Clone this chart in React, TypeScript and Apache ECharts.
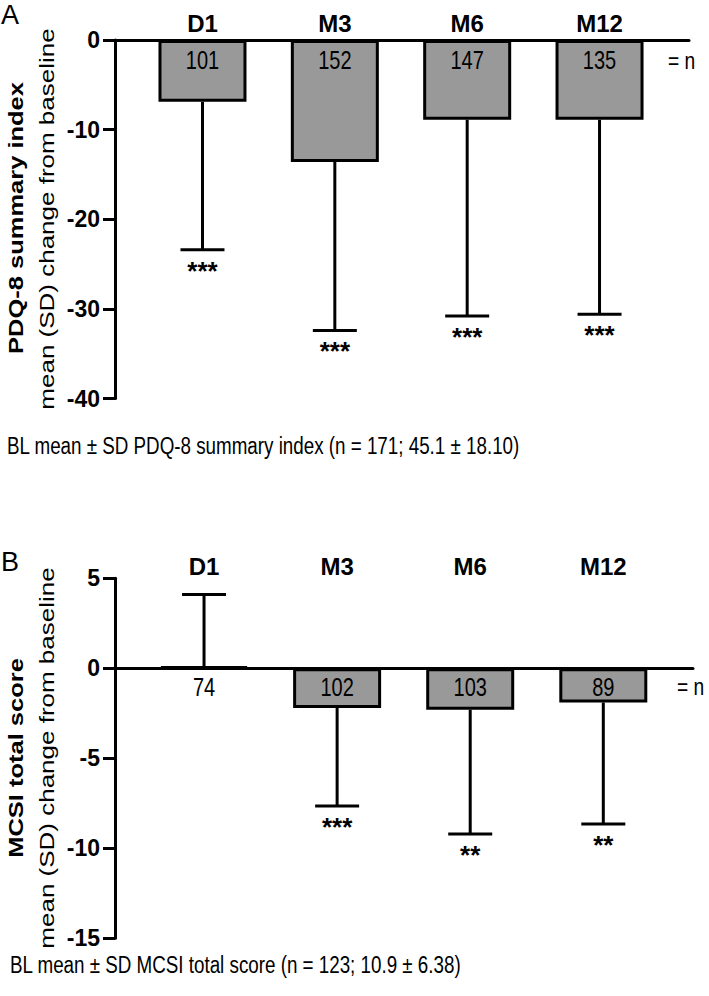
import React, { useEffect, useRef } from "react";
import * as echarts from "echarts";

const categories = ["D1", "M3", "M6", "M12"];
const catPos = [1, 2, 3, 4];

const pdqMean = [-6.9, -13.6, -8.9, -8.9];
const pdqSD = [16.5, 18.8, 21.9, 21.7];
const pdqN = [101, 152, 147, 135];
const pdqStars = ["***", "***", "***", "***"];

const mcsiMean = [0.1, -2.2, -2.3, -1.9];
const mcsiSD = [4.0, 5.45, 6.9, 6.75];
const mcsiN = [74, 102, 103, 89];
const mcsiStars = ["", "***", "**", "**"];

const pdqTicks = { min: -40, max: 0, interval: 10 };
const mcsiTicks = { min: -15, max: 5, interval: 5 };

const FONT = "'Liberation Sans', Arial, Helvetica, sans-serif";
const NARROW = 0.8;

function errEnd(m: number, sd: number) {
  return m >= 0 ? m + sd : m - sd;
}

const renderErr = (params: any, api: any) => {
  const x = api.value(0);
  const m = api.value(1);
  const sd = api.value(2);
  const end = errEnd(m, sd);
  const p0 = api.coord([x, m]);
  const p1 = api.coord([x, end]);
  return {
    type: "group",
    children: [
      {
        type: "line",
        shape: { x1: p0[0], y1: p0[1], x2: p1[0], y2: p1[1] },
        style: { stroke: "#000", lineWidth: 3 },
      },
      {
        type: "line",
        shape: { x1: p1[0] - 22, y1: p1[1], x2: p1[0] + 22, y2: p1[1] },
        style: { stroke: "#000", lineWidth: 3 },
      },
    ],
  };
};

function textRenderer(
  texts: (string | number)[],
  dy: number,
  size: number,
  scaleX: number,
  weight: string
) {
  return (params: any, api: any) => {
    const p = api.coord([api.value(0), api.value(1)]);
    return {
      type: "text",
      x: p[0],
      y: p[1] + dy,
      scaleX,
      style: {
        text: String(texts[params.dataIndex]),
        fontSize: size,
        fontWeight: weight,
        fontFamily: FONT,
        fill: "#000",
        align: "center",
        verticalAlign: "middle",
      },
    };
  };
}

function panelSeries(
  idx: number,
  means: number[],
  sds: number[],
  ns: number[],
  stars: string[],
  nDy: number
) {
  return [
    {
      type: "bar",
      xAxisIndex: idx * 2,
      yAxisIndex: idx,
      barWidth: 88,
      data: means.map((v, i) => [catPos[i], v]),
      itemStyle: { color: "#999999", borderColor: "#000", borderWidth: 3 },
      z: 2,
    },
    {
      type: "custom",
      xAxisIndex: idx * 2,
      yAxisIndex: idx,
      renderItem: renderErr,
      encode: { x: 0, y: 1 },
      data: means.map((v, i) => [catPos[i], v, sds[i]]),
      z: 3,
    },
    {
      type: "custom",
      xAxisIndex: idx * 2,
      yAxisIndex: idx,
      renderItem: textRenderer(stars, 21, 26, 1, "bold"),
      encode: { x: 0, y: 1 },
      data: means.map((v, i) => [catPos[i], errEnd(v, sds[i])]),
      z: 4,
    },
    {
      type: "custom",
      xAxisIndex: idx * 2,
      yAxisIndex: idx,
      renderItem: textRenderer(ns, nDy, 25, NARROW, "normal"),
      encode: { x: 0, y: 1 },
      data: means.map((v, i) => [catPos[i], 0]),
      z: 5,
    },
  ];
}

function xAxes(gridIndex: number, min: number, max: number, labelMargin: number) {
  return [
    {
      gridIndex,
      type: "value",
      min,
      max,
      axisLine: { show: true, onZero: true, lineStyle: { color: "#000", width: 3 } },
      axisTick: { show: false },
      axisLabel: { show: false },
      splitLine: { show: false },
    },
    {
      gridIndex,
      type: "value",
      position: "top",
      min,
      max,
      axisLine: { show: false, onZero: false },
      axisTick: { show: false },
      axisLabel: {
        show: true,
        customValues: catPos,
        formatter: (v: number) => categories[Math.round(v) - 1] ?? "",
        fontSize: 24,
        fontWeight: "bold",
        fontFamily: FONT,
        color: "#000",
        margin: labelMargin,
      },
      splitLine: { show: false },
    },
  ];
}

function yAxis(gridIndex: number, t: { min: number; max: number; interval: number }) {
  return {
    gridIndex,
    type: "value",
    min: t.min,
    max: t.max,
    interval: t.interval,
    axisLine: { show: true, onZero: false, lineStyle: { color: "#000", width: 3 } },
    axisTick: { show: true, length: 12, lineStyle: { color: "#000", width: 3 } },
    axisLabel: {
      fontSize: 23,
      fontWeight: "bold",
      fontFamily: FONT,
      color: "#000",
      margin: 15,
    },
    splitLine: { show: false },
  };
}

function rotText(x: number, y: number, text: string, bold: boolean, size: number) {
  return {
    type: "text",
    x,
    y,
    rotation: Math.PI / 2,
    scaleY: NARROW,
    style: {
      text,
      fontSize: size,
      fontWeight: bold ? "bold" : "normal",
      fontFamily: FONT,
      fill: "#000",
      align: "center",
      verticalAlign: "middle",
    },
  };
}

function plainText(x: number, y: number, text: string, size: number, sx: number) {
  return {
    type: "text",
    x,
    y,
    scaleX: sx,
    style: {
      text,
      fontSize: size,
      fontFamily: FONT,
      fill: "#000",
      align: "left",
      verticalAlign: "middle",
    },
  };
}

export default function App() {
  const ref = useRef<HTMLDivElement>(null);
  useEffect(() => {
    if (!ref.current) return;
    const chart = echarts.init(ref.current, undefined, { renderer: "svg" });
    chart.setOption({
      animation: false,
      backgroundColor: "#fff",
      grid: [
        { left: 115, top: 40, width: 574, height: 358.5 },
        { left: 115, top: 578.3, width: 578, height: 360 },
      ],
      xAxis: [
        ...xAxes(0, 0.339, 4.676, 5),
        ...xAxes(1, 0.331, 4.674, 0),
      ],
      yAxis: [yAxis(0, pdqTicks), yAxis(1, mcsiTicks)],
      series: [
        ...panelSeries(0, pdqMean, pdqSD, pdqN, pdqStars, 21),
        ...panelSeries(1, mcsiMean, mcsiSD, mcsiN, mcsiStars, 19),
      ],
      graphic: [
        plainText(1, 15, "A", 27, 1),
        plainText(1, 562, "B", 27, 1),
        plainText(668, 61, "= n", 24, NARROW),
        plainText(677, 687, "= n", 24, NARROW),
        rotText(16, 218, "PDQ-8 summary index", true, 25.5),
        rotText(47, 219, "mean (SD) change from baseline", false, 26),
        rotText(16, 758, "MCSI total score", true, 25.5),
        rotText(47, 758, "mean (SD) change from baseline", false, 26),
        plainText(7, 446, "BL mean ± SD PDQ-8 summary index (n = 171; 45.1 ± 18.10)", 23.5, NARROW),
        plainText(10, 965, "BL mean ± SD MCSI total score (n = 123; 10.9 ± 6.38)", 23.5, NARROW),
      ],
    });
    return () => chart.dispose();
  }, []);
  return (
    <div
      ref={ref}
      style={{ position: "fixed", left: 0, top: 0, width: 709, height: 996, background: "#fff" }}
    />
  );
}
